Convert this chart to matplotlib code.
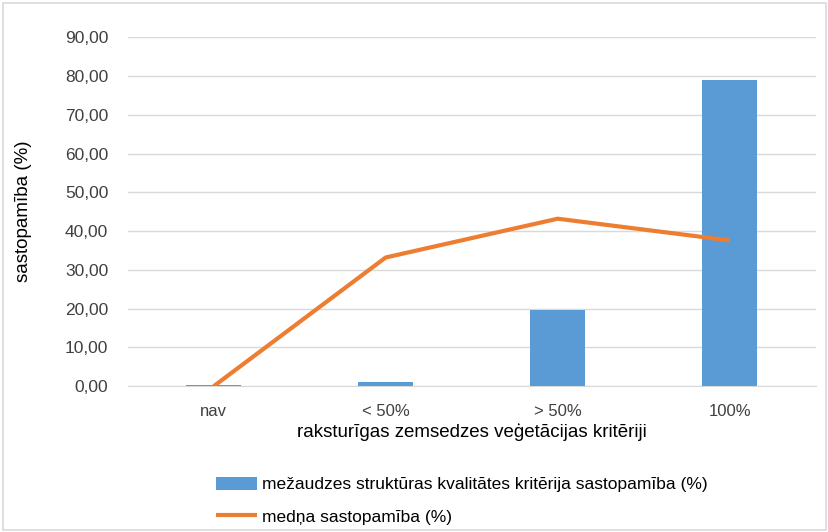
import matplotlib
matplotlib.use("Agg")
import matplotlib.pyplot as plt
import matplotlib.patches as patches
import numpy as np

categories = ["nav", "< 50%", "> 50%", "100%"]
bar_values = [0.3, 1.2, 19.6, 79.0]
line_values = [0.0, 33.2, 43.2, 37.6]
yticks = [0, 10, 20, 30, 40, 50, 60, 70, 80, 90]

bar_label = "mežaudzes struktūras kvalitātes kritērija sastopamība (%)"
line_label = "medņa sastopamība (%)"

plt.rcParams['font.family'] = ['Liberation Sans', 'DejaVu Sans']

fig = plt.figure(figsize=(8.29, 5.32), dpi=100)
ax = fig.add_axes([0.154, 0.274, 0.830, 0.656])

# outer chart frame
fig.patches.append(
    patches.Rectangle(
        (0.004, 0.004), 0.992, 0.990,
        transform=fig.transFigure,
        fill=False,
        edgecolor="#d9d9d9",
        linewidth=1.2
    )
)

x = np.arange(len(categories))
bars = ax.bar(x, bar_values, width=0.32, color="#5b9bd5", zorder=2, label=bar_label)
line, = ax.plot(x, line_values, color="#ed7d31", linewidth=3, zorder=3,
                solid_capstyle="butt", label=line_label)

ax.set_xlim(-0.5, len(categories) - 0.5)
ax.set_ylim(0, 90)
ax.set_yticks(yticks)
ax.set_yticklabels(["%d,00" % v for v in yticks], fontsize=12.5, color="#404040")
ax.set_xticks(x)
ax.set_xticklabels(categories, fontsize=12, color="#404040")
ax.tick_params(axis="y", length=0, pad=14)
ax.tick_params(axis="x", length=0, pad=13)

ax.grid(axis="y", color="#d9d9d9", linewidth=1, zorder=0)
for s in ["top", "right", "left"]:
    ax.spines[s].set_visible(False)
ax.spines["bottom"].set_color("#d9d9d9")
ax.spines["bottom"].set_zorder(1)

ax.set_ylabel("sastopamība (%)", fontsize=13.5, color="#000000")
ax.yaxis.set_label_coords(-0.139, 0.5)
ax.set_xlabel("raksturīgas zemsedzes veģetācijas kritēriji", fontsize=13.5,
              color="#000000", labelpad=3)

fig.legend(
    [bars, line], [bar_label, line_label],
    loc="upper left",
    bbox_to_anchor=(0.26, 0.104),
    frameon=False,
    fontsize=12.5,
    handlelength=2.4,
    handleheight=0.8,
    handletextpad=0.3,
    labelspacing=0.95,
    borderaxespad=0,
    borderpad=0,
)

fig.savefig("out.png", dpi=100)
